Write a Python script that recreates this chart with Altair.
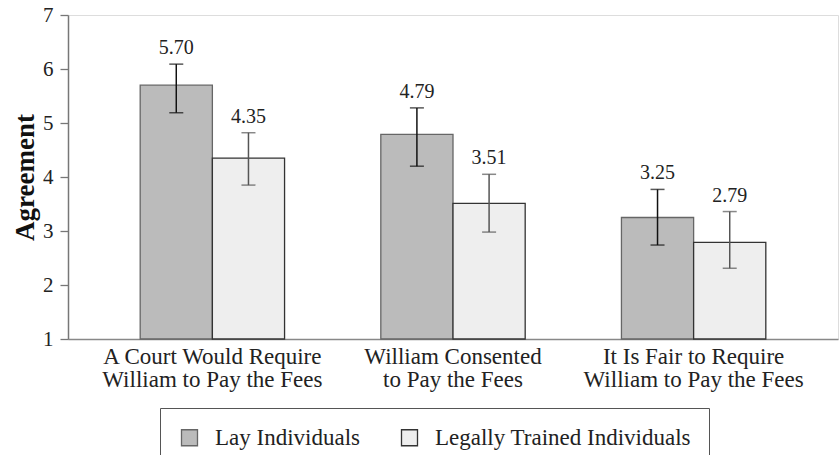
import altair as alt
import pandas as pd

categories = ["A Court Would Require|William to Pay the Fees",
              "William Consented|to Pay the Fees",
              "It Is Fair to Require|William to Pay the Fees"]
groups = ["Lay Individuals", "Legally Trained Individuals"]
lay_means = [5.70, 4.79, 3.25]
lay_upper = [6.09, 5.28, 3.77]
lay_lower = [5.19, 4.20, 2.74]
legal_means = [4.35, 3.51, 2.79]
legal_upper = [4.82, 4.05, 3.36]
legal_lower = [3.85, 2.98, 2.31]

rows = []
for i, c in enumerate(categories):
    rows.append(dict(cat=c, group=groups[0], mean=lay_means[i], lo=lay_lower[i], hi=lay_upper[i], base=1))
    rows.append(dict(cat=c, group=groups[1], mean=legal_means[i], lo=legal_lower[i], hi=legal_upper[i], base=1))
df = pd.DataFrame(rows)

FONT = "Liberation Serif, Times New Roman, serif"

x = alt.X("cat:N", sort=categories,
          scale=alt.Scale(paddingInner=0.4, paddingOuter=0.3),
          axis=alt.Axis(title=None, labelAngle=0, ticks=False,
                        labelExpr="split(datum.label, '|')",
                        labelFont=FONT, labelFontSize=23, labelLineHeight=23,
                        labelColor="#222", labelPadding=6, labelLimit=400,
                        domainColor="#888", domainWidth=1.5))
xo = alt.XOffset("group:N", sort=groups)
yscale = alt.Scale(domain=[1, 7], zero=False, nice=False)

bars = alt.Chart(df).mark_bar(strokeWidth=1.3).encode(
    x=x, xOffset=xo,
    y=alt.Y("mean:Q", scale=yscale,
            axis=alt.Axis(title="Agreement", values=[1, 2, 3, 4, 5, 6, 7], format="d", grid=False,
                          tickSize=8, tickColor="#777", tickWidth=1.3,
                          domainColor="#777", domainWidth=1.5,
                          labelFont=FONT, labelFontSize=21, labelColor="#222", labelPadding=7,
                          titleFont=FONT, titleFontSize=27, titleFontWeight="bold",
                          titleColor="#111", titlePadding=3)),
    y2="base:Q",
    fill=alt.Fill("group:N", sort=groups,
                  scale=alt.Scale(domain=groups, range=["#bbbbbb", "#eeeeee"]),
                  legend=alt.Legend(title=None, orient="none", legendX=92, legendY=393,
                                    direction="horizontal", symbolType="square",
                                    symbolSize=256, symbolStrokeWidth=1.3,
                                    labelFont=FONT, labelFontSize=23, labelColor="#222",
                                    labelOffset=14, columnPadding=38, padding=18,
                                    strokeColor="#555", labelLimit=400)),
    stroke=alt.Stroke("group:N", sort=groups,
                      scale=alt.Scale(domain=groups, range=["#666666", "#333333"]),
                      legend=None),
)

errcolor = alt.Color("group:N", sort=groups,
                     scale=alt.Scale(domain=groups, range=["#111111", "#555555"]), legend=None)

errs = alt.Chart(df).mark_rule(strokeWidth=1.5).encode(
    x=x, xOffset=xo,
    y=alt.Y("lo:Q", scale=yscale), y2="hi:Q",
    color=errcolor,
)
caps_hi = alt.Chart(df).mark_tick(size=14, thickness=1.5).encode(
    x=x, xOffset=xo, y=alt.Y("hi:Q", scale=yscale), color=errcolor,
)
caps_lo = alt.Chart(df).mark_tick(size=14, thickness=1.5).encode(
    x=x, xOffset=xo, y=alt.Y("lo:Q", scale=yscale), color=errcolor,
)
labels = alt.Chart(df).mark_text(font=FONT, fontSize=20, baseline="bottom", dy=-6, color="#222").encode(
    x=x, xOffset=xo, y=alt.Y("hi:Q", scale=yscale),
    text=alt.Text("mean:Q", format=".2f"),
)

chart = alt.layer(bars, errs, caps_hi, caps_lo, labels).properties(
    width=770, height=324,
    autosize=alt.AutoSizeParams(type="none"),
    padding={"left": 68, "top": 15, "right": 2, "bottom": 116},
).configure_view(stroke=None).configure(background="white")

chart.save("out.html", embed_options={"renderer": "svg", "actions": False})
